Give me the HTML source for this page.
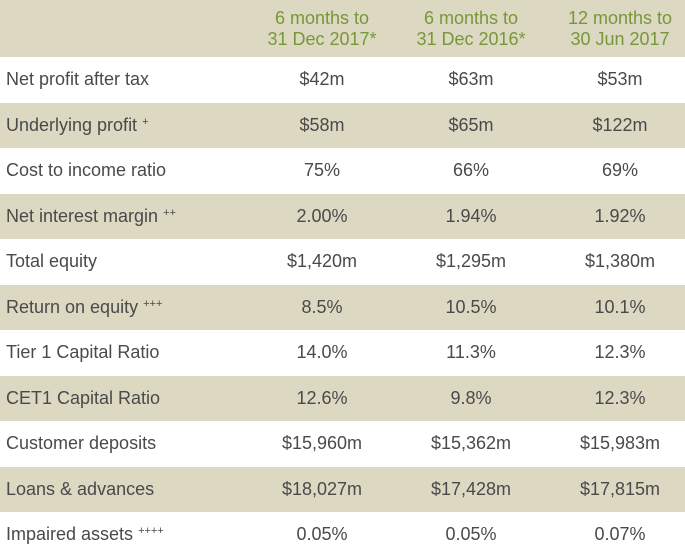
<!DOCTYPE html>
<html><head><meta charset="utf-8"><style>
body{margin:0;width:685px;height:556px;overflow:hidden;background:#fff;font-family:"Liberation Sans",Arial,sans-serif;}
table{border-collapse:collapse;width:685px;table-layout:fixed;}
td,th{padding:0;font-size:18px;color:#4a4a4a;font-weight:normal;}
thead th{height:57px;box-sizing:border-box;background:#dcd8c2;color:#78973a;text-align:center;line-height:21px;vertical-align:middle;padding-top:1px;}
tbody td{height:45.5px;text-align:center;}
tbody td:first-child{text-align:left;padding-left:6px;}
tbody tr:nth-child(even) td{background:#dcd8c2;}
sup{font-size:11px;vertical-align:6px;}
</style></head><body>
<table>
<colgroup><col style="width:257px"><col style="width:130px"><col style="width:168px"><col style="width:130px"></colgroup>
<thead><tr>
<th></th>
<th>6 months to<br>31 Dec 2017*</th>
<th>6 months to<br>31 Dec 2016*</th>
<th>12 months to<br>30 Jun 2017</th>
</tr></thead>
<tbody>
<tr><td>Net profit after tax</td><td>$42m</td><td>$63m</td><td>$53m</td></tr>
<tr><td>Underlying profit <sup>+</sup></td><td>$58m</td><td>$65m</td><td>$122m</td></tr>
<tr><td>Cost to income ratio</td><td>75%</td><td>66%</td><td>69%</td></tr>
<tr><td>Net interest margin <sup>++</sup></td><td>2.00%</td><td>1.94%</td><td>1.92%</td></tr>
<tr><td>Total equity</td><td>$1,420m</td><td>$1,295m</td><td>$1,380m</td></tr>
<tr><td>Return on equity <sup>+++</sup></td><td>8.5%</td><td>10.5%</td><td>10.1%</td></tr>
<tr><td>Tier 1 Capital Ratio</td><td>14.0%</td><td>11.3%</td><td>12.3%</td></tr>
<tr><td>CET1 Capital Ratio</td><td>12.6%</td><td>9.8%</td><td>12.3%</td></tr>
<tr><td>Customer deposits</td><td>$15,960m</td><td>$15,362m</td><td>$15,983m</td></tr>
<tr><td>Loans &amp; advances</td><td>$18,027m</td><td>$17,428m</td><td>$17,815m</td></tr>
<tr><td>Impaired assets <sup>++++</sup></td><td>0.05%</td><td>0.05%</td><td>0.07%</td></tr>
</tbody></table>
</body></html>
